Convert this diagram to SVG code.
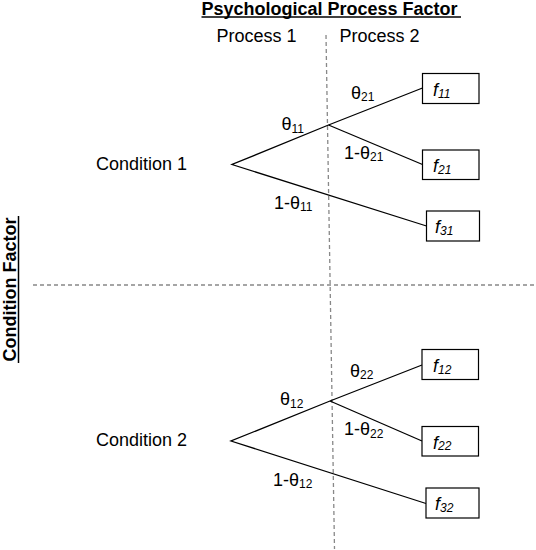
<svg xmlns="http://www.w3.org/2000/svg" width="536" height="550" viewBox="0 0 536 550">
<style>
text{font-family:"Liberation Sans",Arial,sans-serif;font-size:18px;fill:#000}
.b{font-weight:bold}
.i{font-style:italic}
.s{font-size:12px}
.edge{stroke:#000;stroke-width:1.3;fill:none}
.box{stroke:#000;stroke-width:1.2;fill:#fff}
.dash{stroke:#888;stroke-width:1.3;stroke-dasharray:4 3;fill:none}
</style>
<rect width="536" height="550" fill="#fff"/>
<g id="axes">
<line class="dash" x1="326" y1="35" x2="334.5" y2="549"/>
<line class="dash" x1="33" y1="285" x2="536" y2="285"/>
</g>
<g id="title">
<text class="b" x="201.5" y="14.5">Psychological Process Factor</text>
<line x1="201.5" y1="17" x2="461" y2="17" stroke="#000" stroke-width="1.5"/>
<text x="216.5" y="41.5">Process 1</text>
<text x="339.5" y="41.5">Process 2</text>
</g>
<g id="condition-factor">
<text class="b" text-anchor="middle" transform="translate(16,289.5) rotate(-90)">Condition Factor</text>
<line x1="18.5" y1="216" x2="18.5" y2="363" stroke="#000" stroke-width="1.5"/>
</g>
<g id="connectors">
<polyline class="edge" points="422.5,88 328.5,125 232,164.5 426.5,226"/>
<line class="edge" x1="328.5" y1="125" x2="422.5" y2="164.5"/>
<polyline class="edge" points="422,365 330,401 231,441 426,503.5"/>
<line class="edge" x1="330" y1="401" x2="422" y2="441"/>
<text x="351" y="98.5">θ<tspan class="s" dy="2.5">21</tspan></text>
<text x="281.5" y="130">θ<tspan class="s" dy="2.5">11</tspan></text>
<text x="344" y="158.5">1-θ<tspan class="s" dy="2.5">21</tspan></text>
<text x="274" y="208.5">1-θ<tspan class="s" dy="2.5">11</tspan></text>
<text x="350" y="376.5">θ<tspan class="s" dy="2.5">22</tspan></text>
<text x="280" y="405">θ<tspan class="s" dy="2.5">12</tspan></text>
<text x="344" y="435">1-θ<tspan class="s" dy="2.5">22</tspan></text>
<text x="273" y="485.5">1-θ<tspan class="s" dy="2.5">12</tspan></text>
</g>
<g id="condition1"><text x="96" y="170">Condition 1</text></g>
<g id="condition2"><text x="96" y="446">Condition 2</text></g>
<g id="f11"><rect class="box" x="422.5" y="73.5" width="56.5" height="30"/><text class="i" x="433" y="96">f<tspan class="s" dy="1.5">11</tspan></text></g>
<g id="f21"><rect class="box" x="422.5" y="150" width="56.5" height="29.5"/><text class="i" x="433" y="172">f<tspan class="s" dy="1.5">21</tspan></text></g>
<g id="f31"><rect class="box" x="426.5" y="211" width="53" height="30"/><text class="i" x="435" y="233">f<tspan class="s" dy="1.5">31</tspan></text></g>
<g id="f12"><rect class="box" x="422" y="349.5" width="56.5" height="30"/><text class="i" x="433" y="372">f<tspan class="s" dy="1.5">12</tspan></text></g>
<g id="f22"><rect class="box" x="422" y="426.5" width="56.5" height="29.5"/><text class="i" x="433" y="448.5">f<tspan class="s" dy="1.5">22</tspan></text></g>
<g id="f32"><rect class="box" x="426" y="488" width="53" height="30"/><text class="i" x="435" y="510">f<tspan class="s" dy="1.5">32</tspan></text></g>
</svg>
